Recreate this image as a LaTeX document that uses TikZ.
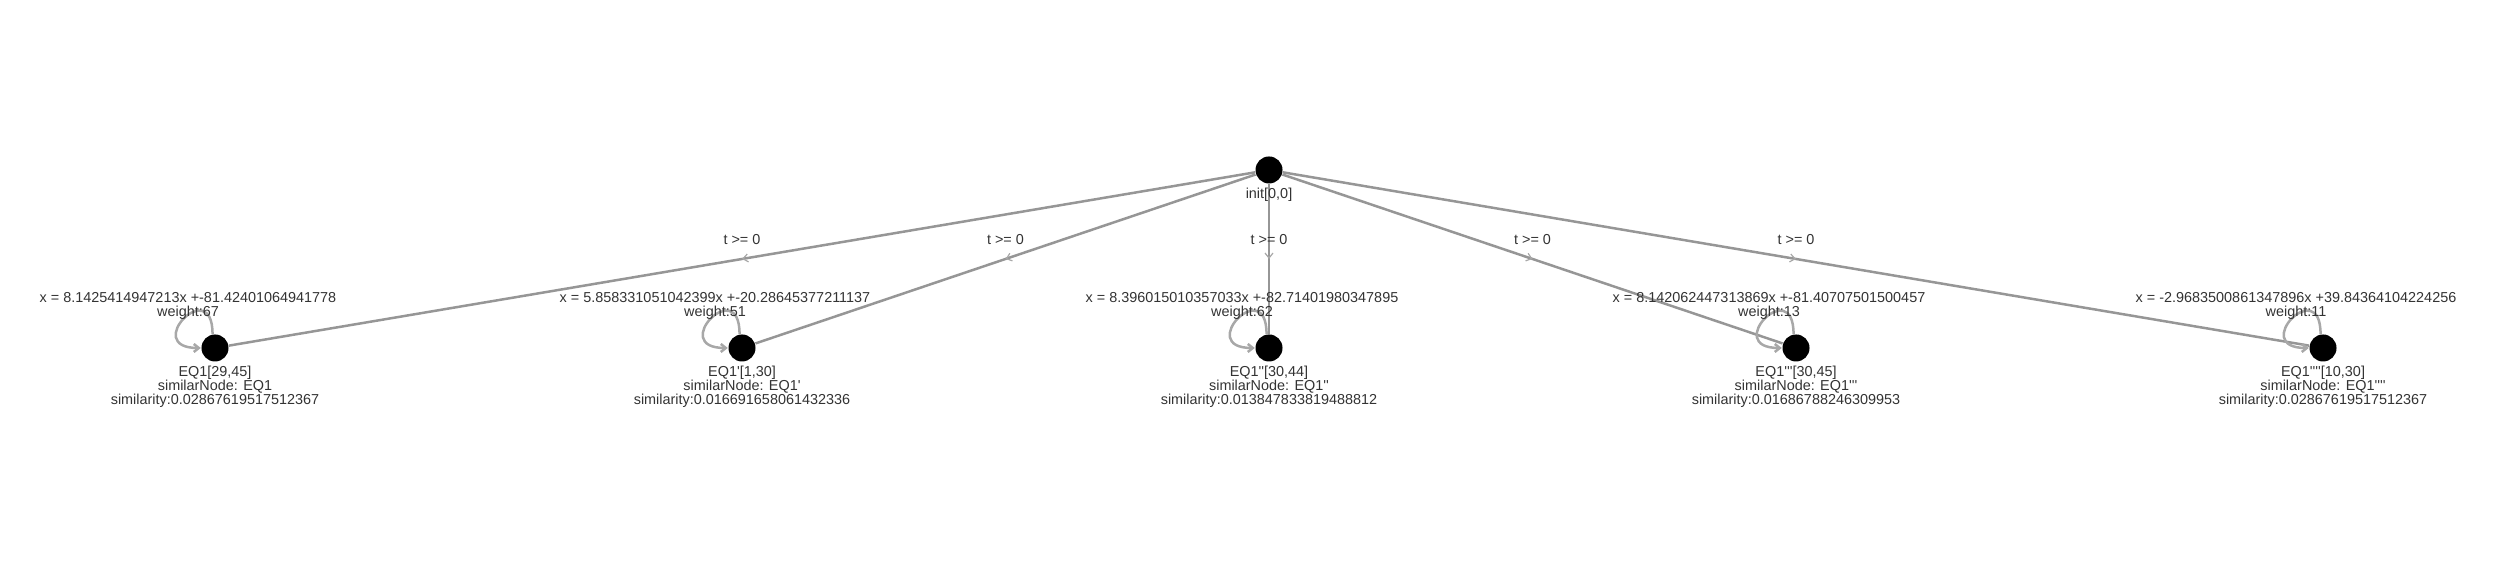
\documentclass[tikz,border=0pt]{standalone}
\usepackage{fontspec}
\setmainfont{Liberation Sans}[Ligatures=TeXOff]
\usetikzlibrary{arrows.meta,decorations.markings}
\definecolor{edgegray}{RGB}{150,150,150}
\definecolor{loopgray}{RGB}{168,168,168}
\definecolor{txtgray}{RGB}{51,51,51}
\begin{document}
\begin{tikzpicture}[x=0.01cm,y=0.01cm,
  state/.style={circle,fill=black,inner sep=0pt,minimum size=0.27cm},
  txt/.style={text=txtgray,inner sep=0pt,align=center,font=\fontsize{4.1pt}{4pt}\selectfont},
  edge/.style={draw=edgegray,line width=0.025cm,postaction={decorate},
    decoration={markings,mark=at position 0.5 with {\arrow[loopgray,line width=0.012cm]{Straight Barb[length=0.05cm,width=0.08cm]}}}},
  selfloop/.style={draw=loopgray,line width=0.025cm,-{Straight Barb[length=0.05cm,width=0.08cm]}}]
\useasboundingbox (0,0) rectangle (2500,562);
% states
\node[state] (init) at (1269,392) {};
\node[state] (eq1) at (215,214) {};
\node[state] (eq2) at (742,214) {};
\node[state] (eq3) at (1269,214) {};
\node[state] (eq4) at (1796,214) {};
\node[state] (eq5) at (2323,214) {};
% transitions
\draw[edge] (init) -- node[txt,above=0.13cm] (g1) {t >= 0} (eq1);
\draw[edge] (init) -- node[txt,above=0.13cm] (g2) {t >= 0} (eq2);
\draw[edge] (init) -- node[txt,above=0.13cm] (g3) {t >= 0} (eq3);
\draw[edge] (init) -- node[txt,above=0.13cm] (g4) {t >= 0} (eq4);
\draw[edge] (init) -- node[txt,above=0.13cm] (g5) {t >= 0} (eq5);
% self loops
\draw[selfloop] (eq1.100) .. controls +(0,60) and +(-60,0) .. (eq1.west);
\draw[selfloop] (eq2.100) .. controls +(0,60) and +(-60,0) .. (eq2.west);
\draw[selfloop] (eq3.100) .. controls +(0,60) and +(-60,0) .. (eq3.west);
\draw[selfloop] (eq4.100) .. controls +(0,60) and +(-60,0) .. (eq4.west);
\draw[selfloop] (eq5.100) .. controls +(0,60) and +(-60,0) .. (eq5.west);
% flow labels
\node[txt] (f1) at (188,270) [below] {x = 8.1425414947213x +-81.42401064941778\\weight:67};
\node[txt] (f2) at (715,270) [below] {x = 5.858331051042399x +-20.28645377211137\\weight:51};
\node[txt] (f3) at (1242,270) [below] {x = 8.396015010357033x +-82.71401980347895\\weight:62};
\node[txt] (f4) at (1769,270) [below] {x = 8.142062447313869x +-81.40707501500457\\weight:13};
\node[txt] (f5) at (2296,270) [below] {x = -2.9683500861347896x +39.84364104224256\\weight:11};
% state labels
\node[txt] (l0) at (1269,375) [below] {init[0,0]};
\node[txt] (l1) at (215,197) [below] {EQ1[29,45]\\similarNode: EQ1\\similarity:0.02867619517512367};
\node[txt] (l2) at (742,197) [below] {EQ1'[1,30]\\similarNode: EQ1'\\similarity:0.016691658061432336};
\node[txt] (l3) at (1269,197) [below] {EQ1''[30,44]\\similarNode: EQ1''\\similarity:0.013847833819488812};
\node[txt] (l4) at (1796,197) [below] {EQ1'''[30,45]\\similarNode: EQ1'''\\similarity:0.01686788246309953};
\node[txt] (l5) at (2323,197) [below] {EQ1''''[10,30]\\similarNode: EQ1''''\\similarity:0.02867619517512367};
\end{tikzpicture}
\end{document}
